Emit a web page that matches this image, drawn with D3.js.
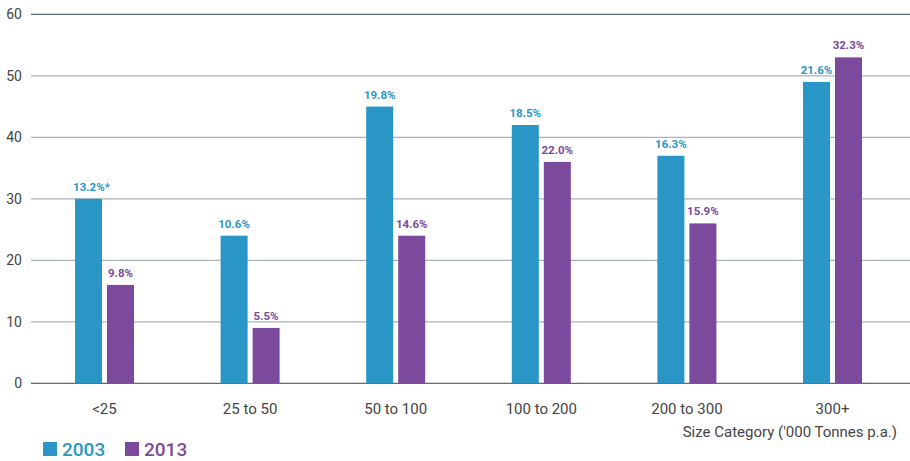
<!DOCTYPE html>
<html><head><meta charset="utf-8">
<script src="https://cdn.jsdelivr.net/npm/d3@7"></script>
<style>body{margin:0;background:#fff}svg{display:block}text{font-family:Roboto,"Noto Sans",sans-serif}</style>
</head><body><svg id="c" width="910" height="461"></svg>
<script>
const categories = ["<25","25 to 50","50 to 100","100 to 200","200 to 300","300+"];
const series2003 = [30,24,45,42,37,49];
const series2013 = [16,9,24,36,26,53];
const labels2003 = ["13.2%*","10.6%","19.8%","18.5%","16.3%","21.6%"];
const labels2013 = ["9.8%","5.5%","14.6%","22.0%","15.9%","32.3%"];
const yTicks = [0,10,20,30,40,50,60];
const seriesNames = ["2003","2013"];
const colors = ["#2a96c5","#7b4a9d"];

const svg = d3.select("#c");
const x = d3.scaleBand().domain(categories).range([31.7,905.3]);
const y = d3.scaleLinear().domain([0,60]).range([383.3,14.3]);
const bw = 27, gap = 5;

svg.append("g").selectAll("line").data(yTicks).join("line")
  .attr("x1",31).attr("x2",910)
  .attr("y1",d=>y(d)).attr("y2",d=>y(d))
  .attr("stroke",d=>(d===0||d===60)?"#5b6d7b":"#a8b3bb")
  .attr("stroke-width",1.3);

svg.append("g").selectAll("text").data(yTicks).join("text")
  .attr("x",22).attr("y",d=>y(d)+5).attr("text-anchor","end")
  .attr("font-size",14).attr("fill","#444").text(d=>d);

const data = [series2003, series2013];
const labs = [labels2003, labels2013];
data.forEach((vals,si)=>{
  const off = si===0 ? -(bw+gap/2) : gap/2;
  svg.append("g").selectAll("rect").data(vals).join("rect")
    .attr("x",(d,i)=>x(categories[i])+x.bandwidth()/2+off)
    .attr("width",bw)
    .attr("y",d=>y(d)).attr("height",d=>y(0)-y(d))
    .attr("fill",colors[si]);
  svg.append("g").selectAll("text").data(vals).join("text")
    .attr("x",(d,i)=>x(categories[i])+x.bandwidth()/2+off+bw/2+(labs[si][i].endsWith("*")?3:0))
    .attr("y",d=>y(d)-8)
    .attr("text-anchor","middle").attr("font-size",11.5).attr("font-weight","bold")
    .attr("fill",colors[si]).text((d,i)=>labs[si][i]);
});

svg.append("g").selectAll("text").data(categories).join("text")
  .attr("x",d=>x(d)+x.bandwidth()/2).attr("y",414)
  .attr("text-anchor","middle").attr("font-size",15).attr("fill","#444").text(d=>d);

svg.append("text").attr("x",897).attr("y",437).attr("text-anchor","end")
  .attr("font-size",15).attr("fill","#444").text("Size Category ('000 Tonnes p.a.)");

const leg = svg.append("g").selectAll("g").data(seriesNames).join("g")
  .attr("transform",(d,i)=>`translate(${43+i*82},442)`);
leg.append("rect").attr("width",14).attr("height",14).attr("fill",(d,i)=>colors[i]);
leg.append("text").attr("x",19).attr("y",14).attr("font-size",19).attr("font-weight","500")
  .attr("fill",(d,i)=>colors[i]).text(d=>d);
</script></body></html>
